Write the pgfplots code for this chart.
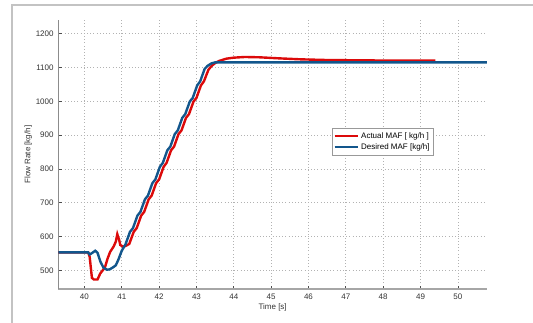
\documentclass[border=0pt]{standalone}
\usepackage{pgfplots}
\pgfplotsset{compat=1.18}
\usepackage{fontspec}
\setmainfont{Liberation Sans}
\definecolor{actred}{RGB}{220,10,10}
\definecolor{desblue}{RGB}{18,86,140}
\definecolor{framegray}{RGB}{195,195,195}
\begin{document}
\begin{tikzpicture}
\useasboundingbox (0,0) rectangle (399.75pt,242.25pt);
\draw[framegray,line width=1.5pt] (9pt,0) -- (9pt,238.5pt) -- (399.75pt,238.5pt);
\begin{axis}[
  at={(43.725pt,25.275pt)}, anchor=south west,
  scale only axis, width=321.5pt, height=202pt,
  xmin=39.3, xmax=50.78, ymin=444, ymax=1240.5,
  axis lines=left, axis line style={-},
  x axis line style={draw=gray!70, line width=1.2pt},
  y axis line style={draw=gray!90, line width=0.6pt},
  xtick={40,41,...,50}, ytick={500,600,...,1200},
  tick align=inside, major tick length=2.5pt,
  tick style={black!70, line width=0.5pt},
  grid=major, major grid style={dotted, gray!60, line width=0.5pt},
  /pgf/number format/assume math mode=true,
  /pgf/number format/set thousands separator={},
  ticklabel style={font=\fontsize{6}{7}\selectfont, text=black!80},
  xlabel={Time [s]}, ylabel={Flow Rate [kg/h]},
  label style={font=\fontsize{6}{7}\selectfont, text=black!80},
  xlabel style={yshift=4pt},
  ylabel style={yshift=-4pt},
  legend style={at={(axis cs:46.63,921)}, anchor=north west,
    font=\fontsize{6}{7}\selectfont, draw=gray!80, line width=0.6pt,
    inner sep=1pt, row sep=-1.5pt, fill=white},
  legend cell align=left,
  legend image post style={line width=1.5pt},
]
\addplot[actred, line width=1.8pt] coordinates {
(39.3,553) (40.10,553) (40.14,540) (40.2,478) (40.25,473) (40.35,473) (40.42,490)
(40.55,509) (40.62,535) (40.69,555) (40.78,570) (40.84,585) (40.88,607)
(40.93,590) (40.96,575) (41.03,570) (41.10,572) (41.20,578)
(41.32,614) (41.40,625) (41.52,662) (41.60,673) (41.72,710) (41.80,721)
(41.92,758) (42.00,769) (42.12,806) (42.20,818) (42.32,855) (42.40,866)
(42.52,903) (42.60,914) (42.72,951) (42.80,962) (42.92,999) (43.00,1010)
(43.12,1047) (43.20,1059) (43.32,1093) (43.40,1104) (43.50,1113) (43.60,1119)
(43.80,1126) (44.00,1129) (44.30,1131) (44.70,1130) (45.20,1127) (45.80,1124)
(46.50,1122) (47.50,1121) (48.50,1120) (49.40,1120)
};
\addlegendentry{Actual MAF [ kg/h ]}
\addplot[desblue, line width=1.8pt] coordinates {
(39.3,553) (40.10,553) (40.14,547) (40.2,551) (40.29,558) (40.35,552)
(40.43,525) (40.51,508) (40.6,502) (40.68,503) (40.78,510) (40.84,515)
(40.91,532) (41.00,558) (41.10,577) (41.22,614) (41.30,625)
(41.42,662) (41.50,673) (41.62,710) (41.70,721) (41.82,758) (41.90,769)
(42.02,806) (42.10,818) (42.22,855) (42.30,866) (42.42,903) (42.50,914)
(42.62,951) (42.70,962) (42.82,999) (42.90,1010) (43.02,1047) (43.10,1059)
(43.22,1096) (43.30,1105) (43.40,1112) (43.50,1115) (50.78,1115)
};
\addlegendentry{Desired MAF [kg/h]}
\end{axis}
\end{tikzpicture}
\end{document}
